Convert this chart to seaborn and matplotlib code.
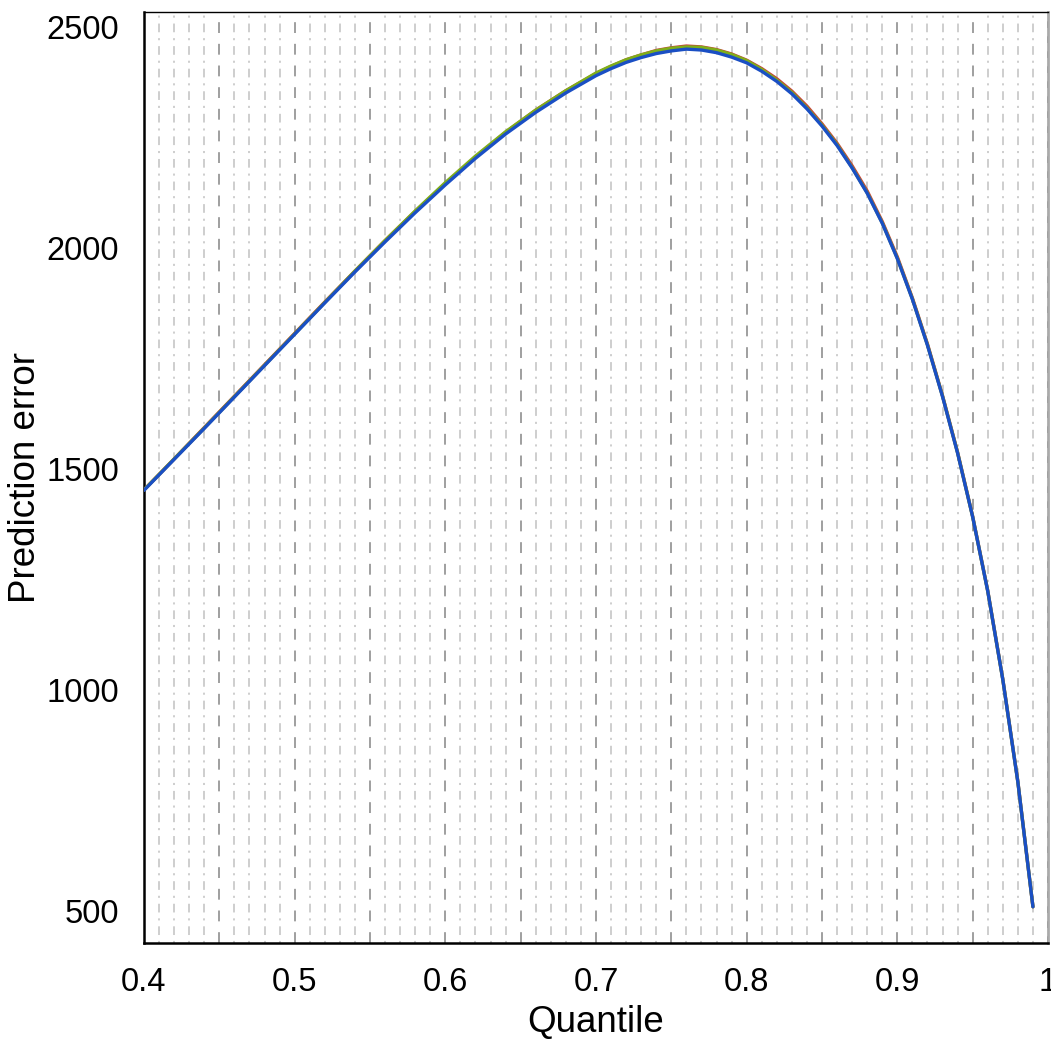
import numpy as np
import pandas as pd
import matplotlib
matplotlib.use("Agg")
import matplotlib.pyplot as plt
import seaborn as sns

# ---- data ----
quantile = [0.40, 0.42, 0.44, 0.46, 0.48, 0.50, 0.52, 0.54, 0.56, 0.58,
            0.60, 0.62, 0.64, 0.66, 0.68,
            0.70, 0.71, 0.72, 0.73, 0.74, 0.75, 0.76, 0.77, 0.78, 0.79,
            0.80, 0.81, 0.82, 0.83, 0.84, 0.85, 0.86, 0.87, 0.88, 0.89,
            0.90, 0.91, 0.92, 0.93, 0.94, 0.95, 0.96, 0.97, 0.98, 0.99]

err_blue = [1452, 1522, 1592, 1663, 1734, 1805, 1876, 1946, 2014, 2080,
            2143, 2203, 2258, 2307, 2351,
            2390, 2406, 2420, 2431, 2440, 2446, 2450, 2448, 2442, 2432,
            2419, 2400, 2377, 2349, 2315, 2276, 2232, 2181, 2124, 2056,
            1976, 1884, 1780, 1664, 1536, 1392, 1224, 1024, 792, 510]

err_red = [1453, 1523, 1594, 1665, 1736, 1807, 1878, 1948, 2017, 2083,
           2146, 2206, 2262, 2312, 2356,
           2395, 2411, 2426, 2437, 2447, 2453, 2457, 2455, 2449, 2439,
           2425, 2406, 2383, 2355, 2321, 2281, 2237, 2186, 2129, 2060,
           1980, 1887, 1783, 1666, 1538, 1393, 1225, 1025, 793, 510]

err_green = [1453, 1523, 1593, 1664, 1735, 1806, 1877, 1948, 2017, 2084,
             2148, 2208, 2263, 2312, 2356,
             2396, 2412, 2426, 2437, 2446, 2452, 2455, 2454, 2448, 2438,
             2424, 2404, 2380, 2352, 2317, 2278, 2234, 2182, 2125, 2057,
             1977, 1885, 1781, 1665, 1537, 1392, 1224, 1024, 792, 510]

x_ticks = [0.4, 0.5, 0.6, 0.7, 0.8, 0.9, 1.0]
x_tick_labels = ["0.4", "0.5", "0.6", "0.7", "0.8", "0.9", "1"]
y_ticks = [500, 1000, 1500, 2000, 2500]
y_tick_labels = ["500", "1000", "1500", "2000", "2500"]

minor_grid = [round(0.40 + 0.01 * i, 2) for i in range(1, 60)]
major_grid = [0.45, 0.50, 0.55, 0.60, 0.65, 0.70, 0.75, 0.80, 0.85, 0.90, 0.95]

series_names = ["red", "green", "blue"]
series_colors = {"red": "#c8403a", "green": "#7fae1a", "blue": "#1a4fc4"}

df = pd.concat([
    pd.DataFrame({"Quantile": quantile, "err": err_red, "series": "red"}),
    pd.DataFrame({"Quantile": quantile, "err": err_green, "series": "green"}),
    pd.DataFrame({"Quantile": quantile, "err": err_blue, "series": "blue"}),
], ignore_index=True)

# ---- style ----
sns.set_style("white")
plt.rcParams["font.family"] = ["Liberation Sans", "DejaVu Sans"]

fig = plt.figure(figsize=(10.51, 10.41), dpi=100)
ax = fig.add_axes([144 / 1051, 1 - 943 / 1041, (1048 - 144) / 1051, (943 - 12) / 1041])

# grid lines
for g in minor_grid:
    if any(abs(g - m) < 1e-9 for m in major_grid):
        continue
    ax.axvline(g, color="#c8c8c8", lw=1.25, dashes=(1.2, 3.4, 5.0, 3.4), zorder=0)
for g in major_grid:
    ax.axvline(g, color="#8f8f8f", lw=1.2, dashes=(6.5, 6.5), zorder=0.5)
ax.axvline(1.0, color="#333333", lw=1.2, dashes=(4, 5), zorder=0.5)

sns.lineplot(data=df, x="Quantile", y="err", hue="series", hue_order=series_names,
             palette=series_colors, linewidth=2.4, legend=False, ax=ax,
             estimator=None, sort=False, zorder=3)
for ln in ax.get_lines():
    ln.set_solid_joinstyle("round")
    ln.set_solid_capstyle("round")

ax.set_xlim(0.4, 1.0)
ax.set_ylim(428, 2534)
ax.set_xticks(x_ticks)
ax.set_xticklabels(x_tick_labels)
ax.set_yticks(y_ticks)
ax.set_yticklabels(y_tick_labels)

ax.tick_params(axis="both", direction="out", length=11, width=1.0, color="black",
               labelsize=23.5, labelcolor="black")
ax.tick_params(axis="x", pad=6)
ax.tick_params(axis="y", pad=7)

ax.set_xlabel("Quantile", fontsize=26.5, labelpad=5, color="black")
ax.set_ylabel("Prediction error", fontsize=26.5, labelpad=2, color="black")

for side in ["left", "bottom"]:
    ax.spines[side].set_color("black")
    ax.spines[side].set_linewidth(1.8)
ax.spines["top"].set_color("black")
ax.spines["top"].set_linewidth(1.0)
ax.spines["right"].set_color("#aaaaaa")
ax.spines["right"].set_linewidth(2.0)

fig.savefig("out.png", dpi=100)
